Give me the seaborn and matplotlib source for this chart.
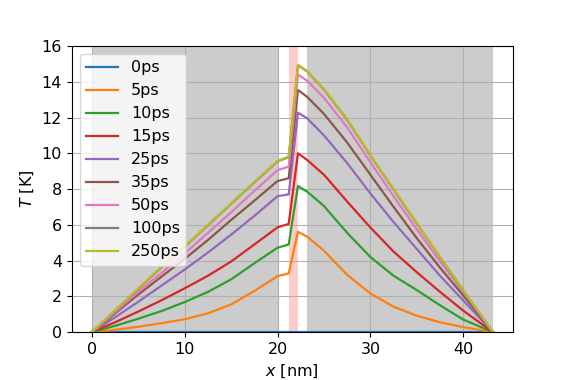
import matplotlib.pyplot as plt
import numpy as np
import pandas as pd
import seaborn as sns

plt.rcParams.update({"font.size": 11.5})

# positions along the stack [nm]
x_nm = [0, 2.5, 5, 7.5, 10, 12.5, 15, 17.5, 20, 21.2,
        22.2, 23.2, 25, 27.5, 30, 32.5, 35, 37.5, 40, 43.2]

# temperature rise [K] for each delay
T_0ps = [0] * 20
T_5ps = [0, 0.13, 0.3, 0.5, 0.72, 1.05, 1.55, 2.3, 3.13, 3.28,
         5.61, 5.33, 4.55, 3.2, 2.16, 1.42, 0.92, 0.55, 0.28, 0]
T_10ps = [0, 0.35, 0.75, 1.18, 1.68, 2.25, 2.95, 3.85, 4.72, 4.9,
          8.17, 7.85, 7.05, 5.55, 4.2, 3.15, 2.35, 1.5, 0.7, 0]
T_15ps = [0, 0.55, 1.15, 1.78, 2.45, 3.15, 3.95, 4.9, 5.86, 6.05,
          10.0, 9.62, 8.8, 7.3, 5.85, 4.5, 3.35, 2.25, 1.2, 0]
T_25ps = [0, 0.83, 1.7, 2.6, 3.5, 4.45, 5.45, 6.5, 7.6, 7.7,
          12.27, 11.95, 11.0, 9.45, 7.75, 6.15, 4.65, 3.15, 1.77, 0]
T_35ps = [0, 1.05, 2.1, 3.1, 4.1, 5.15, 6.27, 7.35, 8.45, 8.6,
          13.54, 13.15, 12.2, 10.6, 8.8, 7.0, 5.25, 3.6, 2.05, 0]
T_50ps = [0, 1.12, 2.25, 3.3, 4.4, 5.55, 6.7, 7.9, 9.06, 9.25,
          14.4, 14.05, 13.1, 11.45, 9.5, 7.6, 5.75, 3.95, 2.25, 0]
T_100ps = [0, 1.2, 2.42, 3.62, 4.77, 5.97, 7.17, 8.37, 9.55, 9.78,
           14.92, 14.57, 13.57, 11.87, 9.87, 7.97, 6.07, 4.18, 2.33, 0]
T_250ps = [0, 1.22, 2.45, 3.65, 4.8, 6.0, 7.2, 8.4, 9.58, 9.81,
           14.95, 14.6, 13.6, 11.9, 9.9, 8.0, 6.1, 4.2, 2.35, 0]

delays = ["0ps", "5ps", "10ps", "15ps", "25ps", "35ps", "50ps", "100ps", "250ps"]
curves = [T_0ps, T_5ps, T_10ps, T_15ps, T_25ps, T_35ps, T_50ps, T_100ps, T_250ps]

# layer boundaries [nm]
gray_layers = [(0, 20), (23.2, 43.2)]
pink_layer = (21.2, 22.2)

df = pd.DataFrame({
    "x": np.tile(x_nm, len(delays)),
    "T": np.concatenate(curves),
    "delay": np.repeat(delays, len(x_nm)),
})

fig, ax = plt.subplots(figsize=(5.7, 3.8), dpi=100)
fig.subplots_adjust(left=0.126, right=0.9, top=0.879, bottom=0.126)

for a, b in gray_layers:
    ax.axvspan(a, b, color="0.8", lw=0)
ax.axvspan(*pink_layer, color="red", alpha=0.2, lw=0)

sns.lineplot(data=df, x="x", y="T", hue="delay", hue_order=delays,
             palette=sns.color_palette("tab10", len(delays)), lw=1.6, ax=ax)

ax.set_ylim(0, 16)
ax.set_yticks(range(0, 17, 2))
ax.set_xticks(range(0, 41, 10))
ax.grid(True)
ax.set_xlabel("$x$ [nm]")
ax.set_ylabel("$T$ [K]")
handles, labels = ax.get_legend_handles_labels()
ax.legend(handles, labels, loc="upper left")

fig.savefig("out.png", dpi=100)
